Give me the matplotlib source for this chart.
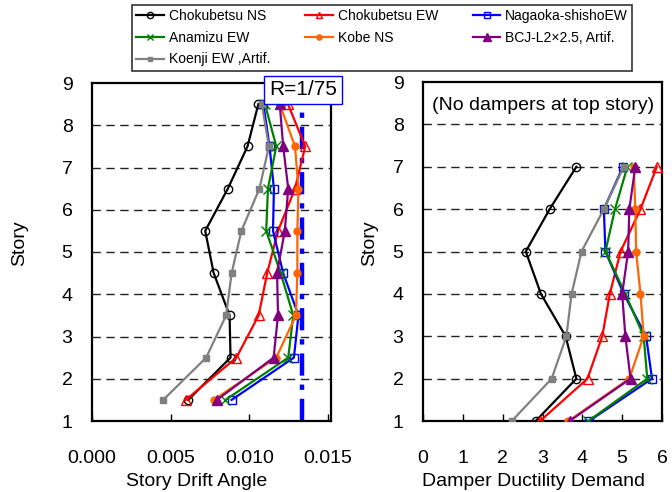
import numpy as np
import matplotlib.pyplot as plt
plt.switch_backend("agg")

plt.rcParams["font.family"] = ["Liberation Sans", "DejaVu Sans"]

# story positions
drift_story = [1.5, 2.5, 3.5, 4.5, 5.5, 6.5, 7.5, 8.5]
duct_story = [1, 2, 3, 4, 5, 6, 7]

names = ["Chokubetsu NS", "Chokubetsu EW", "Nagaoka-shishoEW", "Anamizu EW",
         "Kobe NS", "BCJ-L2\u00d72.5, Artif.", "Koenji EW ,Artif."]

# story drift angle (stories 1..8)
drift_chokubetsu_ns = [0.00612, 0.00881, 0.00875, 0.00774, 0.00720, 0.00864, 0.00989, 0.01058]
drift_chokubetsu_ew = [0.00597, 0.00918, 0.01060, 0.01114, 0.01183, 0.01291, 0.01356, 0.01246]
drift_nagaoka = [0.00888, 0.01284, 0.01313, 0.01216, 0.01151, 0.01157, 0.01129, 0.01090]
drift_anamizu = [0.00849, 0.01248, 0.01280, 0.01200, 0.01108, 0.01119, 0.01172, 0.01100]
drift_kobe = [0.00774, 0.01172, 0.01297, 0.01306, 0.01306, 0.01313, 0.01291, 0.01194]
drift_bcj = [0.00795, 0.01155, 0.01183, 0.01177, 0.01226, 0.01248, 0.01216, 0.01194]
drift_koenji = [0.00453, 0.00726, 0.00853, 0.00888, 0.00950, 0.01065, 0.01125, 0.01080]

# damper ductility demand (stories 1..7)
duct_chokubetsu_ns = [2.83, 3.85, 3.58, 2.96, 2.58, 3.18, 3.85]
duct_chokubetsu_ew = [2.94, 4.13, 4.50, 4.69, 4.96, 5.46, 5.87]
duct_nagaoka = [4.17, 5.75, 5.60, 5.04, 4.58, 4.54, 5.02]
duct_anamizu = [4.15, 5.63, 5.54, 5.08, 4.58, 4.82, 5.13]
duct_kobe = [3.65, 5.18, 5.54, 5.46, 5.35, 5.33, 5.29]
duct_bcj = [3.68, 5.21, 5.08, 5.00, 5.15, 5.18, 5.33]
duct_koenji = [2.23, 3.23, 3.60, 3.73, 3.98, 4.54, 5.04]

drift_all = [drift_chokubetsu_ns, drift_chokubetsu_ew, drift_nagaoka, drift_anamizu,
             drift_kobe, drift_bcj, drift_koenji]
duct_all = [duct_chokubetsu_ns, duct_chokubetsu_ew, duct_nagaoka, duct_anamizu,
            duct_kobe, duct_bcj, duct_koenji]

limit_drift = 1 / 75

colors = ["black", "#ff0000", "#0000ff", "#008000", "#ff6600", "#800080", "#808080"]
markers = ["o", "^", "s", "x", "o", "^", "s"]
msizes = [6, 6.5, 6, 6.5, 5, 7, 4.5]
mfaces = ["none", "none", "none", None, None, None, None]

fig = plt.figure(figsize=(6.72, 4.92), dpi=100)
ax1 = fig.add_axes([92 / 672, 1 - 421 / 492, 239 / 672, 338 / 492])
ax2 = fig.add_axes([423 / 672, 1 - 421 / 492, 239 / 672, 339 / 492])

handles = []
for i in range(len(names)):
    kw = dict(color=colors[i], marker=markers[i], markersize=msizes[i], linewidth=1.6,
              markeredgewidth=1.0, zorder=3)
    if mfaces[i] is not None:
        kw["markerfacecolor"] = mfaces[i]
    h, = ax1.plot(drift_all[i], drift_story, label=names[i], **kw)
    ax2.plot(duct_all[i], duct_story, **kw)
    handles.append(h)

ax1.axvline(limit_drift, color="#0000ff", linewidth=3.2, linestyle=(0, (5, 2, 1.2, 2)), zorder=2)

for ax in (ax1, ax2):
    ax.set_ylim(1, 9)
    ax.set_yticks(range(1, 10))
    for s in range(2, 9):
        ax.axhline(s, color="#222222", linewidth=1.0, linestyle=(0, (6, 4)), zorder=1)
    for sp in ax.spines.values():
        sp.set_linewidth(1.6)
    ax.tick_params(axis="y", length=0, pad=14, labelsize=14)
    ax.tick_params(axis="x", direction="in", length=5, width=1, pad=21, labelsize=14,
                   top=False)

ax1.set_xlim(0, 0.0152)
ax1.set_xticks([0.0, 0.005, 0.010, 0.015])
ax1.set_xticklabels(["0.000", "0.005", "0.010", "0.015"])

ax2.set_xlim(0, 6)
ax2.set_xticks(range(0, 7))

fig.text(197 / 672, 1 - 482 / 492, "Story Drift Angle", ha="center", va="center", fontsize=14)
fig.text(533 / 672, 1 - 482 / 492, "Damper Ductility Demand", ha="center", va="center", fontsize=14)
fig.text(20 / 672, 1 - 243 / 492, "Story", ha="center", va="center", fontsize=14, rotation=90)
fig.text(370 / 672, 1 - 243 / 492, "Story", ha="center", va="center", fontsize=14, rotation=90)

fig.text(543 / 672, 1 - 105 / 492, "(No dampers at top story)", ha="center", va="center",
         fontsize=14)

fig.text(303 / 672, 1 - 90 / 492, "R=1/75", ha="center", va="center", fontsize=15,
         bbox=dict(boxstyle="square,pad=0.22", facecolor="white", edgecolor="#0000ff",
                   linewidth=1.0))

# matplotlib fills legend columns first; reorder so rows read like the original
order = [0, 3, 6, 1, 4, 2, 5]
leg = fig.legend(handles=[handles[k] for k in order], loc="upper left",
                 bbox_to_anchor=(132 / 672, 1 - 5 / 492),
                 ncol=3, fontsize=10, frameon=True, fancybox=False, borderaxespad=0,
                 handlelength=2.0, handletextpad=0.35, columnspacing=2.5, labelspacing=0.55,
                 borderpad=0.3, markerscale=0.75)
leg.get_frame().set_edgecolor("black")
leg.get_frame().set_linewidth(1.2)

fig.savefig("out.png", dpi=100)
